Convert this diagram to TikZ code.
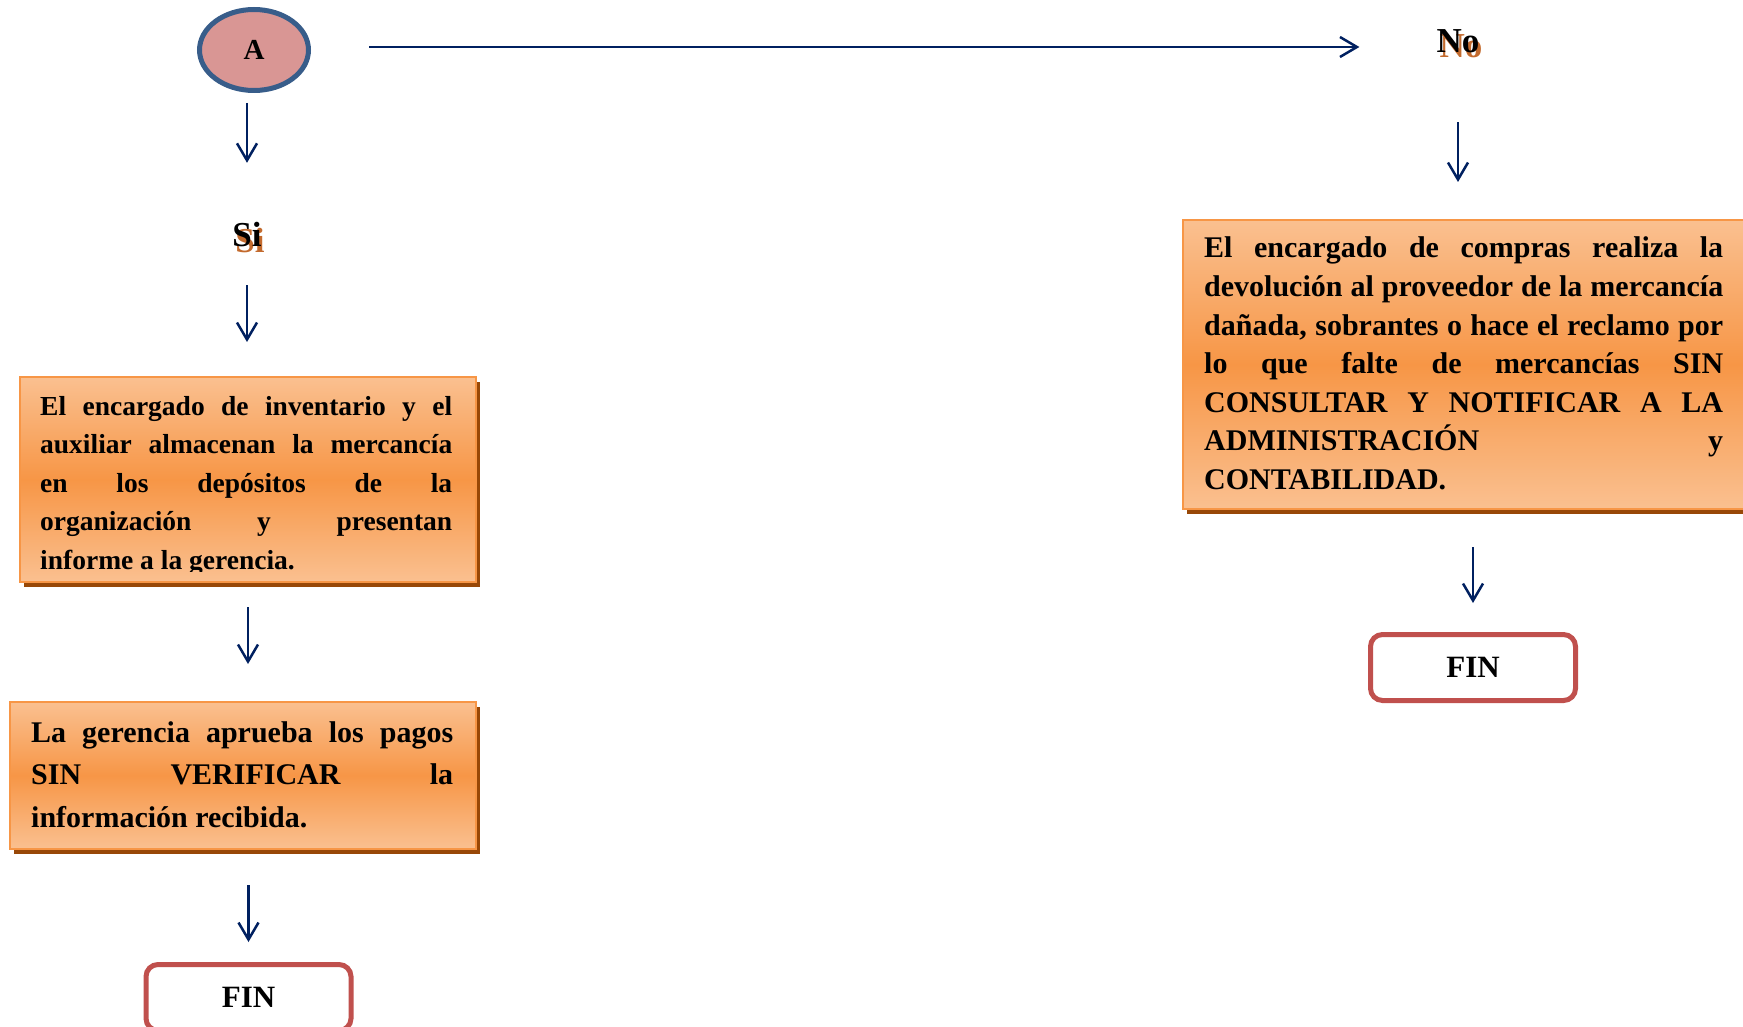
\documentclass[tikz,border=0pt]{standalone}
\usepackage{fontspec}
\setmainfont{Liberation Serif}
\usetikzlibrary{arrows.meta}
\usetikzlibrary{shapes.geometric}
\usetikzlibrary{shadows}

\definecolor{naranja}{HTML}{F79646}
\definecolor{naranjaclaro}{HTML}{FAC090}
\definecolor{sombracaja}{HTML}{984807}
\definecolor{azulflecha}{HTML}{002060}
\definecolor{rosa}{HTML}{D99694}
\definecolor{azulborde}{HTML}{385D8A}
\definecolor{rojofin}{HTML}{C0504D}
\definecolor{ocre}{HTML}{C36A2D}

\tolerance=10000
\hbadness=10000

\tikzset{
  flecha/.style={-{Straight Barb[length=17pt,width=20pt]}, color=azulflecha, line width=2.5pt},
  caja/.style={draw=naranja, line width=2pt, top color=naranjaclaro, bottom color=naranjaclaro,
    middle color=naranja, anchor=north west, inner sep=0pt,
    drop shadow={shadow xshift=4pt, shadow yshift=-5pt, fill=sombracaja, opacity=1}},
  texto/.style={anchor=base west, inner sep=0pt, align=justify,
    font=\bfseries\fontsize{27.5}{38.5}\selectfont},
  titulo/.style={anchor=base, inner sep=0pt, text height=24pt, text depth=0pt,
    font=\bfseries\fontsize{35}{40}\selectfont},
  fin/.style={draw=rojofin, line width=5pt, fill=white, rounded corners=12pt, minimum width=205pt,
    minimum height=66pt, inner sep=0pt, font=\bfseries\fontsize{31}{36}\selectfont}
}

\begin{document}
\begin{tikzpicture}[x=1pt, y=-1pt]
      \clip (0,0) rectangle (1743,1027);

      \node[ellipse, draw=azulborde, line width=5pt, fill=rosa, minimum width=109pt, minimum height=81pt,
        inner sep=0pt, font=\bfseries\fontsize{29}{34}\selectfont] (A) at (254,50) {A};

      \node[titulo, text=ocre] (siSombra) at (250,252) {Si};
      \node[titulo] (si) at (247,247) {Si};
      \node[titulo, text=ocre] (noSombra) at (1461,58) {No};
      \node[titulo] (no) at (1458,53) {No};

      \node[caja, minimum width=456pt, minimum height=205pt] (caja1) at (19,376) {};
      \node[caja, minimum width=466pt, minimum height=147pt] (caja2) at (9,701) {};
      \node[caja, minimum width=579pt, minimum height=289pt] (caja3) at (1182,219) {};

      \begin{scope}
        \clip (0,376) rectangle (480,571);
        \node[texto, text width=412pt] (t1) at (40,415) {El encargado de inventario y el\linebreak
          auxiliar almacenan la mercancía\linebreak en los depósitos de la\linebreak
          organización y presentan\linebreak informe a la gerencia.};
      \end{scope}
      \node[texto, text width=422pt, font=\bfseries\fontsize{30}{42.5}\selectfont] (t2) at (31,742)
        {La gerencia aprueba los pagos\linebreak SIN VERIFICAR la\linebreak información recibida.};
      \node[texto, text width=519pt, font=\bfseries\fontsize{30}{38.6}\selectfont] (t3) at (1204,258)
        {El encargado de compras realiza la\linebreak
        devolución al proveedor de la mercancía\linebreak dañada, sobrantes o hace el reclamo por\linebreak
        lo que falte de mercancías SIN\linebreak CONSULTAR Y NOTIFICAR A LA\linebreak
        ADMINISTRACIÓN y\linebreak CONTABILIDAD.};

      \node[fin] (fin1) at (248.5,997.5) {FIN};
      \node[fin] (fin2) at (1473,667.5) {FIN};

      \path[flecha] ([yshift=3pt]A.east) edge[shorten <=58pt, shorten >=77pt] ([yshift=3pt]A.east -| no.west);
      \path[flecha] (A.south -| si) edge[shorten <=10pt, shorten >=60pt] (si.north);
      \path[flecha] (si.south) edge[shorten <=38pt, shorten >=34pt] (si.south |- caja1.north);
      \path[flecha] (caja1.south) edge[shorten <=24pt, shorten >=37pt] (caja1.south |- caja2.north);
      \path[flecha] (caja2.south -| fin1) edge[shorten <=35pt, shorten >=20pt] (fin1.north);

      \path[flecha] (no.south) edge[shorten <=69pt, shorten >=37pt] (no.south |- caja3.north);
      \path[flecha] (caja3.south -| fin2) edge[shorten <=37pt, shorten >=29pt] (fin2.north);
\end{tikzpicture}
\end{document}
